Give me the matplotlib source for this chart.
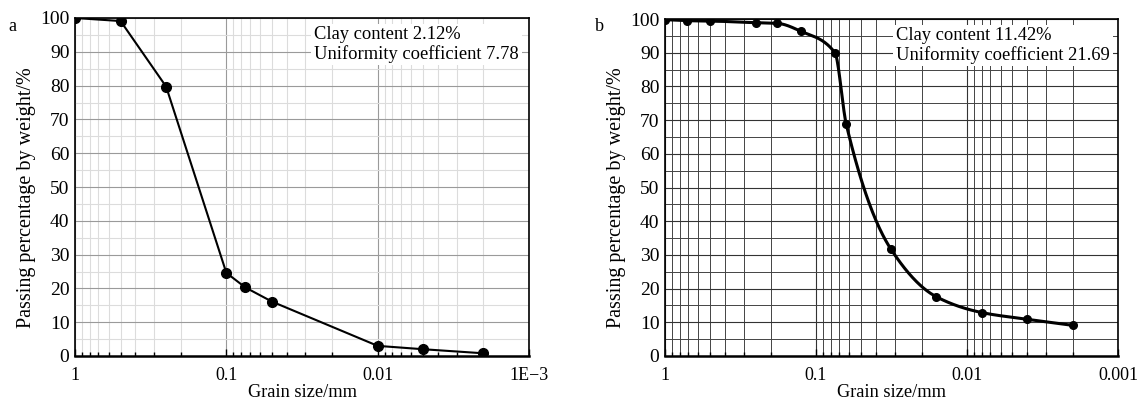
import numpy as np
import matplotlib
matplotlib.use('Agg')
import matplotlib.pyplot as plt
from matplotlib.ticker import LogLocator, NullFormatter

plt.rcParams['font.family'] = ['Liberation Serif', 'DejaVu Serif']
plt.rcParams['mathtext.fontset'] = 'stix'

# panel a: grain size (mm) vs passing percentage
size_a = [1.0, 0.5, 0.25, 0.1, 0.075, 0.05, 0.01, 0.005, 0.002]
pass_a = [100.0, 99.1, 79.7, 24.6, 20.3, 16.1, 3.0, 2.0, 0.8]
text_a = 'Clay content 2.12%\nUniformity coefficient 7.78'

# panel b
size_b = [1.0, 0.71, 0.5, 0.25, 0.18, 0.125, 0.075, 0.063, 0.032, 0.016, 0.008, 0.004, 0.002]
pass_b = [99.8, 99.5, 99.4, 98.9, 98.7, 96.3, 90.0, 68.7, 31.8, 17.6, 12.9, 10.9, 9.1]
text_b = 'Clay content 11.42%\nUniformity coefficient 21.69'

xticks = [1, 0.1, 0.01, 0.001]
xlabels_a = ['1', '0.1', '0.01', '1E\u22123']
xlabels_b = ['1', '0.1', '0.01', '0.001']


def smooth_curve(x, y, n=600):
    # monotone cubic (Fritsch-Carlson) in log10 space, for drawing only
    t = -np.log10(np.asarray(x, float))
    y = np.asarray(y, float)
    h = np.diff(t)
    d = np.diff(y) / h
    m = np.zeros_like(y)
    m[0], m[-1] = d[0], d[-1]
    for k in range(1, len(y) - 1):
        if d[k - 1] * d[k] <= 0:
            m[k] = 0
        else:
            w1 = 2 * h[k] + h[k - 1]
            w2 = h[k] + 2 * h[k - 1]
            m[k] = (w1 + w2) / (w1 / d[k - 1] + w2 / d[k])
    tt = np.linspace(t[0], t[-1], n)
    idx = np.clip(np.searchsorted(t, tt) - 1, 0, len(h) - 1)
    s = (tt - t[idx]) / h[idx]
    h00 = 2 * s**3 - 3 * s**2 + 1
    h10 = s**3 - 2 * s**2 + s
    h01 = -2 * s**3 + 3 * s**2
    h11 = s**3 - s**2
    yy = h00 * y[idx] + h10 * h[idx] * m[idx] + h01 * y[idx + 1] + h11 * h[idx] * m[idx + 1]
    return 10 ** (-tt), yy


fig = plt.figure(figsize=(11.42, 4.0), dpi=100)
ax1 = fig.add_axes([0.0657, 0.11, 0.3975, 0.845])
ax2 = fig.add_axes([0.5823, 0.11, 0.3967, 0.8425])

for ax, labels in [(ax1, xlabels_a), (ax2, xlabels_b)]:
    ax.set_xscale('log')
    ax.set_xlim(1, 0.001)
    ax.set_ylim(0, 100)
    ax.set_xticks(xticks)
    ax.set_xticklabels(labels)
    ax.xaxis.set_minor_locator(LogLocator(base=10, subs=np.arange(2, 10)))
    ax.xaxis.set_minor_formatter(NullFormatter())
    ax.set_yticks(np.arange(0, 101, 10))
    ax.set_yticks(np.arange(5, 100, 10), minor=True)
    ax.tick_params(axis='x', which='major', direction='in', length=5, width=1, labelsize=13, pad=8)
    ax.tick_params(axis='x', which='minor', direction='in', length=3, width=1)
    ax.tick_params(axis='y', which='both', length=0, labelsize=14, pad=4)
    ax.set_xlabel('Grain size/mm', fontsize=13.2, labelpad=0)
    ax.set_ylabel('Passing percentage by weight/%', fontsize=14.5, labelpad=6)
    ax.yaxis.set_label_coords(-0.085, 0.47)
    for sp in ax.spines.values():
        sp.set_linewidth(1.2)
    ax.spines['bottom'].set_linewidth(1.8)
    ax.set_axisbelow(True)

# panel a grid: light greys
ax1.grid(True, which='major', color='#9a9a9a', lw=0.8)
ax1.grid(True, which='minor', color='#dcdcdc', lw=0.8)
ax1.plot(size_a, pass_a, color='black', lw=1.5, marker='o', ms=7)
ax1.text(0.978, 0.975, text_a, transform=ax1.transAxes, ha='right', va='top',
         multialignment='left', fontsize=13.3, linespacing=1.1,
         bbox=dict(facecolor='white', edgecolor='none', pad=2))
fig.text(0.007, 0.922, 'a', fontsize=13)

# panel b grid: dark lines
ax2.grid(True, which='major', color='#333333', lw=0.8)
ax2.grid(True, which='minor', color='#444444', lw=0.7)
xs, ys = smooth_curve(size_b, pass_b)
ax2.plot(xs, ys, color='black', lw=2.2)
ax2.plot(size_b, pass_b, 'o', color='black', ms=5.5)
ax2.text(0.982, 0.975, text_b, transform=ax2.transAxes, ha='right', va='top',
         multialignment='left', fontsize=13.3, linespacing=1.1,
         bbox=dict(facecolor='white', edgecolor='none', pad=2))
fig.text(0.521, 0.922, 'b', fontsize=13)

fig.savefig('out.png', dpi=100)
